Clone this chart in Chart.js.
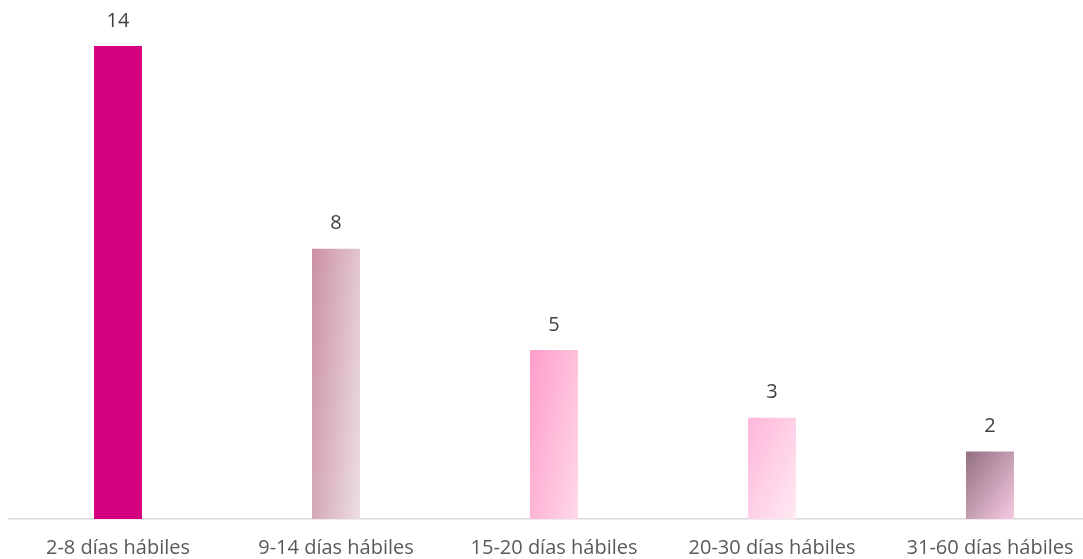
<!DOCTYPE html>
<html>
<head>
<meta charset="utf-8">
<script src="https://cdn.jsdelivr.net/npm/chart.js@4"></script>
<style>
  html, body { margin: 0; padding: 0; background: #fff; overflow: hidden; }
  #wrap { position: relative; width: 1100px; height: 577px; }
</style>
</head>
<body>
<div id="wrap"><canvas id="chart"></canvas></div>
<script>
const categories = ['2-8 días hábiles', '9-14 días hábiles', '15-20 días hábiles', '20-30 días hábiles', '31-60 días hábiles']
const values = [14, 8, 5, 3, 2]

// gradient per bar: start colour, end colour, share of the change that runs across (vs down)
const barFills = [
  ['#D5007F', '#D5007F', 0.5],
  ['#CB90A4', '#ECDEE3', 0.7],
  ['#FF9DC9', '#FFD8E9', 0.6],
  ['#FFB6D9', '#FFEAF3', 0.5],
  ['#917080', '#F7CAE3', 0.5],
]

function barGradient(ctx) {
  const chart = ctx.chart
  const i = ctx.dataIndex
  const fill = barFills[i]
  const xs = chart.scales.x, ys = chart.scales.y
  if (!chart.chartArea || !xs || !ys) return fill[0]
  const cx = xs.getPixelForValue(i)
  const w = xs.width / categories.length * 0.22
  const top = ys.getPixelForValue(values[i])
  const h = Math.max(1, ys.getPixelForValue(0) - top)
  const a = fill[2], b = 1 - a
  const d = 1 / (a * a / (w * w) + b * b / (h * h))
  const x0 = cx - w / 2
  const g = chart.ctx.createLinearGradient(x0, top, x0 + a * d / w, top + b * d / h)
  g.addColorStop(0, fill[0])
  g.addColorStop(1, fill[1])
  return g
}

const valueLabels = {
  id: 'valueLabels',
  afterDatasetsDraw(chart) {
    const ctx = chart.ctx
    const meta = chart.getDatasetMeta(0)
    ctx.save()
    ctx.font = '20px "Open Sans"'
    ctx.fillStyle = '#404040'
    ctx.textAlign = 'center'
    ctx.textBaseline = 'middle'
    meta.data.forEach((bar, i) => {
      ctx.fillText(values[i], bar.x, bar.y - 25)
    })
    ctx.restore()
  }
}

new Chart(document.getElementById('chart'), {
  type: 'bar',
  data: {
    labels: categories,
    datasets: [{
      data: values,
      backgroundColor: barGradient,
      barPercentage: 0.22,
      categoryPercentage: 1,
    }]
  },
  options: {
    responsive: true,
    maintainAspectRatio: false,
    animation: false,
    layout: { padding: { left: 9, right: 1, top: 46, bottom: 0 } },
    plugins: {
      legend: { display: false },
      tooltip: { enabled: false },
    },
    scales: {
      x: {
        grid: { display: false, drawTicks: false },
        border: { display: true, color: '#D9D9D9', width: 1.5 },
        ticks: {
          color: '#595959',
          font: { family: 'Open Sans', size: 20 },
          padding: 17,
          maxRotation: 0,
          autoSkip: false,
        }
      },
      y: {
        display: false,
        min: 0,
        max: 14,
      }
    }
  },
  plugins: [valueLabels]
})
</script>
</body>
</html>
